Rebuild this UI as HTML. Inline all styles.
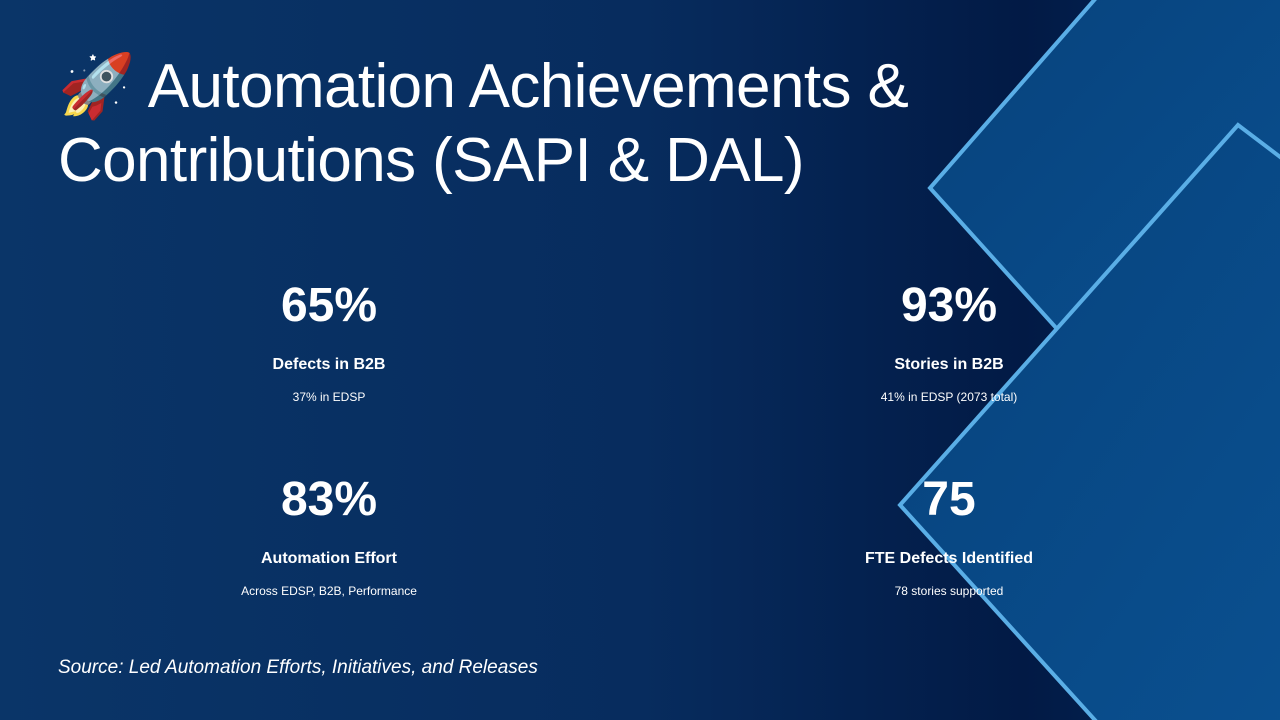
<!DOCTYPE html>
<html><head><meta charset="utf-8"><style>
body{margin:0;width:1280px;height:720px;overflow:hidden;font-family:"Liberation Sans",sans-serif;}
#slide{position:relative;width:1280px;height:720px;background:linear-gradient(90deg,#0a3568 0%,#072c5e 50%,#021a45 80%,#03285a 100%);}
svg.bg{position:absolute;left:0;top:0}
.title{position:absolute;left:58px;top:50px;color:#fff;font-size:62px;line-height:74px;letter-spacing:-0.6px;}
.stat{position:absolute;width:400px;text-align:center;color:#fff;}
.big{font-size:48px;font-weight:bold;line-height:56px}
.lbl{font-size:16px;font-weight:bold;margin-top:22px}
.sub{font-size:12px;margin-top:16px}
.src{position:absolute;left:58px;top:657px;color:#fff;font-size:19px;font-style:italic}
</style></head><body>
<div id="slide">
<svg class="bg" width="1280" height="720">
<defs><linearGradient id="g" x1="0" y1="0" x2="1" y2="1"><stop offset="0" stop-color="#07427c"/><stop offset="1" stop-color="#0a5090"/></linearGradient></defs>
<polygon points="1103,-10 1300,-10 1300,400 1058,330 930,188" fill="url(#g)" stroke="#5aaee6" stroke-width="4"/>
<polygon points="1238,125 1300,172 1300,740 1113,740 900,505" fill="url(#g)" stroke="#5aaee6" stroke-width="4"/>
</svg>
<div class="title">🚀 Automation Achievements &amp;<br>Contributions (SAPI &amp; DAL)</div>
<div class="stat" style="left:129px;top:278px"><div class="big">65%</div><div class="lbl">Defects in B2B</div><div class="sub">37% in EDSP</div></div>
<div class="stat" style="left:749px;top:278px"><div class="big">93%</div><div class="lbl">Stories in B2B</div><div class="sub">41% in EDSP (2073 total)</div></div>
<div class="stat" style="left:129px;top:472px"><div class="big">83%</div><div class="lbl">Automation Effort</div><div class="sub">Across EDSP, B2B, Performance</div></div>
<div class="stat" style="left:749px;top:472px"><div class="big">75</div><div class="lbl">FTE Defects Identified</div><div class="sub">78 stories supported</div></div>
<div class="src">Source: Led Automation Efforts, Initiatives, and Releases</div>
</div>
</body></html>
